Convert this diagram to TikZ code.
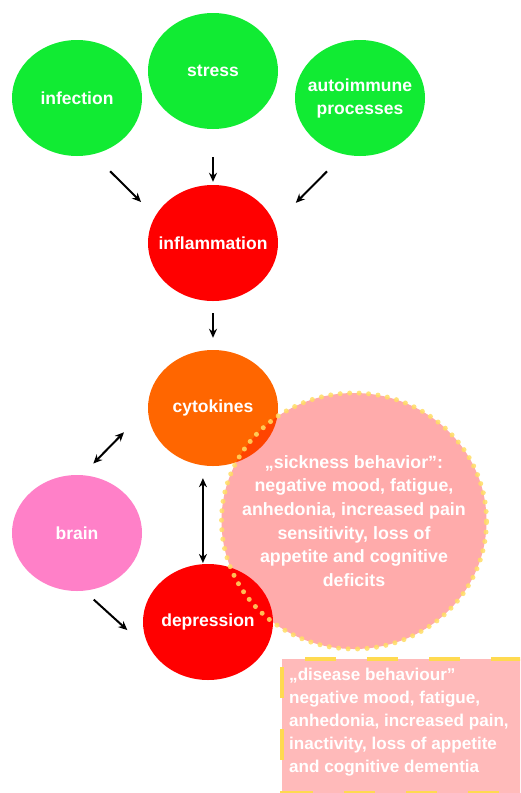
\documentclass[tikz,border=0pt]{standalone}
\usepackage{fontspec}
\setmainfont{Liberation Sans}
\usepackage{xcolor}
\usepackage{tikz}
\usetikzlibrary{shapes.geometric,arrows.meta}

\definecolor{causegreen}{RGB}{17,235,51}
\definecolor{cytoorange}{RGB}{255,102,0}
\definecolor{brainpink}{RGB}{255,128,200}
\definecolor{dotyellow}{RGB}{255,222,100}
\definecolor{dashyellow}{RGB}{255,218,80}

\begin{document}
\begin{tikzpicture}[x=1pt, y=-1pt,
    blob/.style={ellipse, minimum width=130pt, minimum height=116pt,
        inner xsep=-30pt, inner ysep=-15pt,
        text=white, align=center, font=\fontsize{17.5}{23}\selectfont\bfseries},
    arrow/.style={-{Stealth[length=9pt, width=8pt]}, line width=2pt},
    twoway/.style={{Stealth[length=9pt, width=8pt]}-{Stealth[length=9pt, width=8pt]}, line width=2pt}]

% Canvas
\clip (0,0) rectangle (520,793);
\fill[white] (0,0) rectangle (520,793);

% Triggers
\node[blob, fill=causegreen] (infection) at (77,98) {infection};
\node[blob, fill=causegreen] (stress) at (213,71) {stress};
\node[blob, fill=causegreen] (autoimmune) at (360,98) {autoimmune\\processes};

% Main chain
\node[blob, fill=red] (inflammation) at (213,243) {inflammation};
\node[blob, fill=cytoorange] (cytokines) at (213,408) {cytokines};
\node[blob, fill=brainpink] (brain) at (77,533) {brain};
\node[blob, fill=red] (depression) at (208,622) {depression};

% Arrows into inflammation
\draw[arrow, shorten <=24pt, shorten >=20pt] (infection.-74) -- (inflammation.155);
\draw[arrow, shorten <=28pt, shorten >=3pt] (stress.south) -- (inflammation.north);
\draw[arrow, shorten <=24pt, shorten >=30pt] (autoimmune.-106) -- (inflammation.17);
\draw[arrow, shorten <=12pt, shorten >=12pt] (inflammation.south) -- (cytokines.north);

% Feedback between cytokines, brain and depression
\draw[twoway, shorten <=16pt, shorten >=34pt] (brain.85) -- (cytokines.west);
\draw[twoway, shorten <=1pt, shorten >=12pt] (depression.95) -- (depression.95 |- cytokines.south);
\draw[arrow, shorten <=13pt, shorten >=35pt] (brain.-83) -- (depression.210);

% Sickness behaviour bubble
\node[ellipse, minimum width=265pt, minimum height=256pt,
    inner xsep=-70pt, inner ysep=-50pt,
    fill=red, fill opacity=0.33, text opacity=1, draw=dotyellow, draw opacity=0.85,
    line width=5pt, line cap=round, dash pattern=on 0pt off 9.5pt,
    text=white, align=center, font=\fontsize{17.8}{23.6}\selectfont\bfseries]
    (sickness) at (354,521)
    {„sickness behavior”:\\negative mood, fatigue,\\anhedonia, increased pain\\sensitivity, loss of\\appetite and cognitive\\deficits};

% Disease behaviour box
\node[rectangle, anchor=north west, minimum width=270pt, minimum height=134pt,
    fill=red, fill opacity=0.27, text opacity=1, draw=dashyellow,
    line width=4pt, dash pattern=on 31pt off 31pt] (diseasebox) at (280,657) {};
\node[anchor=west, inner sep=0pt, text=white, align=left,
    font=\fontsize{17.1}{23}\selectfont\bfseries] (disease) at (289,722)
    {„disease behaviour”\\negative mood, fatigue,\\anhedonia, increased pain,\\inactivity, loss of appetite\\and cognitive dementia};

\end{tikzpicture}
\end{document}
